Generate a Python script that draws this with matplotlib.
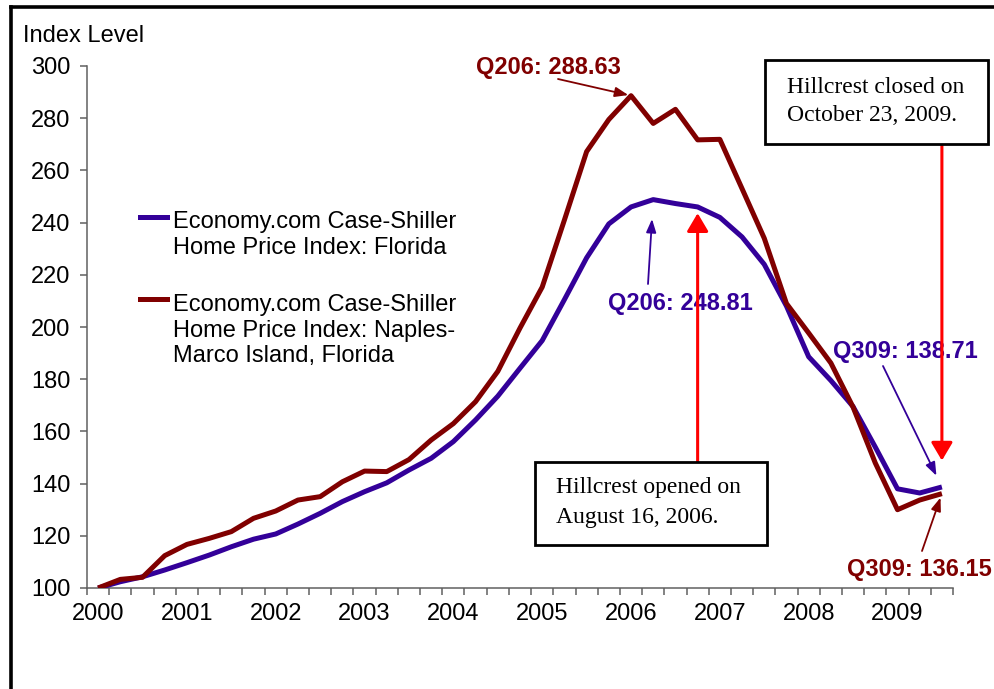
import numpy as np
import matplotlib
matplotlib.use("Agg")
import matplotlib.pyplot as plt
from matplotlib.lines import Line2D
from matplotlib.patches import Rectangle

# ---------------- data ----------------
years = ["2000", "2001", "2002", "2003", "2004", "2005", "2006", "2007", "2008", "2009"]
florida = [100.0, 102.4, 104.3, 106.9, 109.7, 112.6, 115.8, 118.7,
           120.7, 124.5, 128.6, 133.1, 136.9, 140.3, 145.2, 149.7,
           156.1, 164.4, 173.5, 184.2, 194.8, 210.5, 226.5, 239.5,
           246.0, 248.81, 247.3, 246.0, 242.0, 234.5, 224.0, 208.0,
           188.6, 179.5, 169.5, 154.0, 138.0, 136.4, 138.71]
naples = [100.0, 103.3, 104.1, 112.4, 116.7, 119.0, 121.6, 126.7,
          129.5, 133.7, 135.0, 140.7, 144.8, 144.6, 149.2, 156.7,
          163.0, 171.4, 183.0, 199.6, 215.3, 241.0, 267.2, 279.5,
          288.63, 278.0, 283.4, 271.7, 271.9, 253.0, 234.0, 209.0,
          197.7, 186.2, 169.3, 147.9, 130.0, 133.7, 136.15]
label_florida = ["Economy.com Case-Shiller", "Home Price Index: Florida"]
label_naples = ["Economy.com Case-Shiller", "Home Price Index: Naples-", "Marco Island, Florida"]

BLUE = "#330099"
DRED = "#800000"
RED = "#ff0000"
SANS = "Liberation Sans"
SERIF = "Liberation Serif"

W, H = 994, 689
fig = plt.figure(figsize=(W / 100, H / 100), dpi=100)
fig.patch.set_facecolor("white")


def fp(x, y):
    """pixel (top-left origin) -> figure fraction"""
    return x / W, 1 - y / H


ax = fig.add_axes([87 / W, 1 - 588 / H, (953 - 87) / W, (588 - 66) / H])
x = np.arange(len(florida))
ax.plot(x, florida, color=BLUE, lw=3.6, solid_capstyle="butt", zorder=3)
ax.plot(x, naples, color=DRED, lw=3.6, solid_capstyle="butt", zorder=4)

ax.set_xlim(-0.5, len(florida) - 0.5)
ax.set_ylim(100, 300)
ax.set_yticks(np.arange(100, 301, 20))
ax.set_xticks(np.arange(0, len(florida), 4))
ax.set_xticklabels(years)
ax.set_xticks(np.arange(-0.5, len(florida), 1), minor=True)
for s in ["top", "right"]:
    ax.spines[s].set_visible(False)
for s in ["left", "bottom"]:
    ax.spines[s].set_color("#606060")
    ax.spines[s].set_linewidth(1.1)
ax.tick_params(axis="x", which="major", length=0, pad=11, labelsize=17)
ax.tick_params(axis="x", which="minor", length=5, width=1.1, color="#606060", direction="out")
ax.tick_params(axis="y", length=5, width=1.1, color="#606060", direction="out", pad=7, labelsize=17)
for lab in ax.get_xticklabels() + ax.get_yticklabels():
    lab.set_fontfamily(SANS)

# axis title
fig.text(*fp(23, 42), "Index Level", fontsize=17, family=SANS, va="baseline", ha="left")

# legend (manual, Excel style: handle next to first line)
fig.add_artist(Line2D([140 / W, 167 / W], [1 - 217 / H] * 2, color=BLUE, lw=3.6))
for k, t in enumerate(label_florida):
    fig.text(*fp(173, 228 + 25.5 * k), t, fontsize=17, family=SANS, va="baseline")
fig.add_artist(Line2D([140 / W, 167 / W], [1 - 299 / H] * 2, color=DRED, lw=3.6))
for k, t in enumerate(label_naples):
    fig.text(*fp(173, 311 + 25.5 * k), t, fontsize=17, family=SANS, va="baseline")

# value annotations (drawn under the event arrows)
def vtext(px, py, s, color):
    ax.text(px / W, 1 - py / H, s, transform=fig.transFigure, fontsize=17, family=SANS,
            weight="bold", color=color, va="baseline", zorder=2, clip_on=False)


vtext(476, 74, "Q206: 288.63", DRED)
vtext(608, 310, "Q206: 248.81", BLUE)
vtext(833, 358, "Q309: 138.71", BLUE)
vtext(847, 576, "Q309: 136.15", DRED)

thin = "-|>,head_length=0.8,head_width=0.3"
i_peak_n = int(np.argmax(naples))
i_peak_f = int(np.argmax(florida))
i_last = len(florida) - 1


def arrow(tip, tail_px, color, style, lw, shrinkB):
    ax.annotate("", xy=tip, xycoords="data",
                xytext=(tail_px[0], H - tail_px[1]), textcoords="figure pixels",
                arrowprops=dict(arrowstyle=style, color=color, lw=lw, shrinkA=0,
                                shrinkB=shrinkB, mutation_scale=10),
                annotation_clip=False, zorder=5)


arrow((i_peak_n, naples[i_peak_n]), (558, 79), DRED, thin, 1.3, 2)
arrow((i_peak_f, florida[i_peak_f]), (648, 284), BLUE, thin, 1.3, 14)
arrow((i_last, florida[i_last]), (883, 366), BLUE, thin, 1.3, 9)
arrow((i_last, naples[i_last]), (922, 551), DRED, thin, 1.3, 3)

# Hillcrest event arrows (bright red, vertical)
thick = "-|>,head_length=1.1,head_width=0.65"
i_open = 27
ax.annotate("", xy=(i_open, florida[i_open]), xycoords="data",
            xytext=(i_open, H - 462), textcoords=("data", "figure pixels"),
            arrowprops=dict(arrowstyle=thick, color=RED, lw=2.2, shrinkA=0, shrinkB=4.5,
                            mutation_scale=10), annotation_clip=False, zorder=6)
ax.annotate("", xy=(i_last, florida[i_last]), xycoords="data",
            xytext=(i_last, H - 144), textcoords=("data", "figure pixels"),
            arrowprops=dict(arrowstyle=thick, color=RED, lw=2.2, shrinkA=0, shrinkB=19,
                            mutation_scale=10), annotation_clip=False, zorder=6)

# text boxes
for (x0, y0, x1, y1) in [(535, 462, 767, 545), (765, 60, 988, 144)]:
    fig.add_artist(Rectangle(fp(x0, y1), (x1 - x0) / W, (y1 - y0) / H,
                             transform=fig.transFigure, facecolor="white",
                             edgecolor="black", lw=2.0, zorder=5))
fig.text(*fp(556, 493), "Hillcrest opened on", fontsize=17, family=SERIF, va="baseline", zorder=6)
fig.text(*fp(556, 523), "August 16, 2006.", fontsize=17, family=SERIF, va="baseline", zorder=6)
fig.text(*fp(787, 93), "Hillcrest closed on", fontsize=17, family=SERIF, va="baseline", zorder=6)
fig.text(*fp(787, 121), "October 23, 2009.", fontsize=17, family=SERIF, va="baseline", zorder=6)

# outer frame (left and top edges)
fig.add_artist(Line2D([11 / W, 11 / W], [0, 1 - 6.5 / H], color="black", lw=2.6))
fig.add_artist(Line2D([11 / W, 1], [1 - 6.5 / H] * 2, color="black", lw=2.6))

fig.savefig("out.png", dpi=100, facecolor="white")
